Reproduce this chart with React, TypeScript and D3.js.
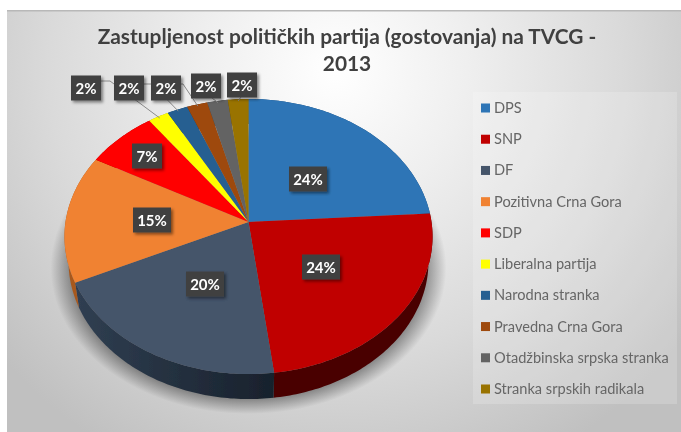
import React from "react";
import * as d3 from "d3";

const parties = ["DPS","SNP","DF","Pozitivna Crna Gora","SDP","Liberalna partija","Narodna stranka","Pravedna Crna Gora","Otadžbinska srpska stranka","Stranka srpskih radikala"];
const shares = [24,24,20,15,7,2,2,2,2,2];
const faceColors = ["#2e75b6","#c00000","#44546a","#f08232","#ff0000","#ffff00","#255e91","#9e480e","#636363","#997300"];
const wallColors = ["#1c4a75","#4a0000","url(#dfWall)","#a8581f","#a00000","#a0a000","#173b5c","#632d09","#3e3e3e","#604800"];
const titleLines = ["Zastupljenost političkih partija (gostovanja) na TVCG -","2013"];

// layout of the value boxes (centre x, centre y)
const labelCentres: [number,number][] = [[308,179],[321,267],[205,284],[152,220],[147,156],[86,88],[129,88],[166,88],[206,86],[242,85]];
// elbow of the leader lines, for the boxes that have one
const leaderStarts: ([number,number]|null)[][] = [[],[],[],[],[],[[101,81],[110,81]],[[144,84],[152,84]],[[181,84],[183,84]],[[212,98]],[[241,97]]];

const W = 681, H = 432;
const cx = 248.5, cy = 222, A = 183, B = 136, P = 0.1056;
const wallScale = 0.978, wallDepth = 25;

const project = (theta: number, r = 1): [number,number] => {
  const u = Math.sin(theta) * r, v = Math.cos(theta) * r;
  const d = 1 + P * v;
  return [cx + A * u / d, cy - B * v / d];
};
const projectWall = (theta: number): [number,number] => {
  const [x, y] = project(theta);
  return [cx + (x - cx) * wallScale, y + wallDepth];
};
const arcs = d3.pie<number>().sort(null)(shares);
const line = d3.line().curve(d3.curveLinear);
const samples = (a: number, b: number) => {
  const n = Math.max(2, Math.ceil((b - a) * 60));
  return d3.range(n + 1).map(i => a + (b - a) * i / n);
};
const facePath = (a: number, b: number) =>
  line([[cx, cy], ...samples(a, b).map(t => project(t))])! + "Z";
const wallPath = (a: number, b: number) => {
  const s = samples(a, b);
  return line([...s.map(t => project(t)), ...s.slice().reverse().map(t => projectWall(t))])! + "Z";
};
const legendY = d3.scalePoint<string>().domain(parties).range([108, 389]);

export default function App() {
  return (
    <svg width={W} height={H} viewBox={`0 0 ${W} ${H}`} style={{ position: "absolute", left: 0, top: 0 }}>
      <defs>
        <radialGradient id="bg" gradientUnits="userSpaceOnUse" cx={335} cy={70} r={440}>
          <stop offset="0" stopColor="#ffffff" />
          <stop offset="0.3" stopColor="#efefef" />
          <stop offset="0.65" stopColor="#dadada" />
          <stop offset="1" stopColor="#c0c0c0" />
        </radialGradient>
        <radialGradient id="pieShade" cx="0.5" cy="0.5" r="0.5">
          <stop offset="0.88" stopColor="#000000" stopOpacity="0.42" />
          <stop offset="1" stopColor="#000000" stopOpacity="0" />
        </radialGradient>
        <linearGradient id="dfWall" x1="0" x2="1" y1="0" y2="0">
          <stop offset="0" stopColor="#303f52" />
          <stop offset="1" stopColor="#18212c" />
        </linearGradient>
        <filter id="soft" filterUnits="userSpaceOnUse" x={0} y={0} width={W} height={H}><feGaussianBlur stdDeviation="0.6" /></filter>
        <filter id="boxShadow" x="-30%" y="-30%" width="170%" height="170%"><feDropShadow dx="2" dy="2" stdDeviation="1.5" floodColor="#000" floodOpacity="0.45" /></filter>
      </defs>
      <rect width={W} height={H} fill="#ffffff" />
      <rect x={7} y={10} width={W - 7} height={H - 10} fill="url(#bg)" />
      <rect x={7} y={10} width={W - 7} height={1.5} fill="#b8b8b8" />
      <rect x={473} y={92} width={204} height={312} fill="#ffffff" opacity={0.18} />
      <ellipse cx={cx} cy={268} rx={198} ry={146} fill="url(#pieShade)" />
      <g filter="url(#soft)">
        {arcs.map((d, i) => <path key={i} d={wallPath(d.startAngle, d.endAngle)} fill={wallColors[i]} />)}
        {arcs.map((d, i) => <path key={i} d={facePath(d.startAngle, d.endAngle)} fill={faceColors[i]} />)}
        <g fontFamily="Lato, sans-serif" fontWeight={700} fontSize={20.9} fill="#404040" textAnchor="middle">
          {titleLines.map((t, i) => <text key={i} x={347} y={44 + i * 27}>{t}</text>)}
        </g>
        {arcs.map((d, i) => {
          const pts = leaderStarts[i];
          if (!pts.length) return null;
          return <path key={i} d={line([...pts, project((d.startAngle + d.endAngle) / 2, 0.985)])!} fill="none" stroke="#8a8a8a" strokeWidth={1} />;
        })}
        {arcs.map((d, i) => {
          const [x, y] = labelCentres[i];
          const label = `${shares[i]}%`;
          const w = label.length > 2 ? 38 : 30;
          return (
            <g key={i}>
              <rect x={x - w / 2} y={y - 12.5} width={w} height={25} fill="#404040" filter="url(#boxShadow)" />
              <text x={x} y={y + 5.5} textAnchor="middle" fontFamily="Lato, sans-serif" fontWeight={700} fontSize={15} fill="#ffffff">{label}</text>
            </g>
          );
        })}
        {parties.map((p, i) => (
          <g key={p}>
            <rect x={481} y={legendY(p)! - 4.5} width={9} height={9} fill={faceColors[i]} />
            <text x={494} y={legendY(p)! + 5} fontFamily="Lato, sans-serif" fontSize={14.6} fill="#666666">{p}</text>
          </g>
        ))}
      </g>
    </svg>
  );
}
